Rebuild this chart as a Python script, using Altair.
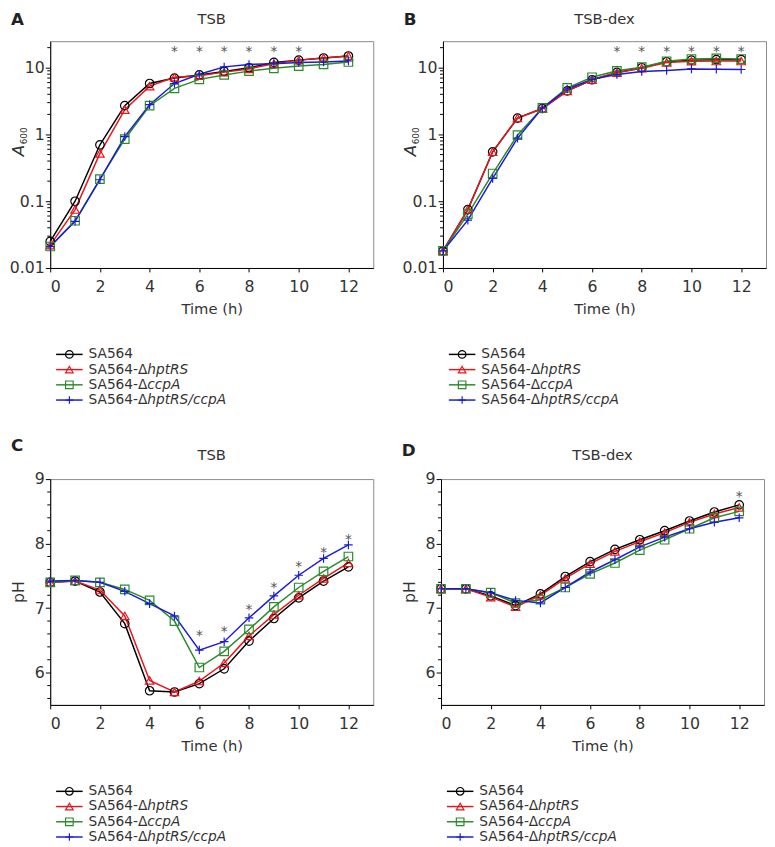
import altair as alt
import pandas as pd

time = list(range(13))
strains = ["SA564", "SA564-ΔhptRS", "SA564-ΔccpA", "SA564-ΔhptRS/ccpA"]
prefixes = ["SA564", "SA564-Δ", "SA564-Δ", "SA564-Δ"]
suffixes = ["", "hptRS", "ccpA", "hptRS/ccpA"]
colors = ["#000000", "#e8161c", "#2b8a2b", "#1a1ad8"]
shapes = ["circle", "triangle-up", "square", "M0,-1L0,1M-1,0L1,0"]

# Panel A: A600, TSB
a_sa564 = [0.025, 0.1, 0.7, 2.7, 5.8, 7.0, 7.8, 8.8, 10.0, 12.0, 13.0, 14.0, 15.0]
a_hpt = [0.022, 0.075, 0.52, 2.35, 5.3, 7.2, 7.6, 8.6, 9.6, 11.5, 13.0, 14.0, 15.0]
a_ccp = [0.021, 0.051, 0.215, 0.85, 2.7, 4.9, 6.7, 7.8, 8.9, 9.8, 10.6, 11.2, 12.2]
a_dbl = [0.021, 0.05, 0.21, 0.93, 2.8, 5.8, 8.0, 10.3, 11.2, 11.5, 12.0, 12.2, 12.6]
a_star_t = [5, 6, 7, 8, 9, 10]
a_star_y = [19, 19, 19, 19, 19, 19]

# Panel B: A600, TSB-dex
b_sa564 = [0.018, 0.075, 0.55, 1.76, 2.45, 4.5, 6.6, 8.5, 10.0, 12.3, 13.0, 13.2, 13.2]
b_hpt = [0.018, 0.075, 0.55, 1.76, 2.45, 4.5, 6.6, 8.4, 9.8, 12.0, 12.5, 12.6, 12.6]
b_ccp = [0.018, 0.064, 0.26, 0.98, 2.5, 5.0, 7.2, 9.0, 10.2, 12.5, 13.5, 13.8, 13.5]
b_dbl = [0.018, 0.052, 0.22, 0.88, 2.5, 4.8, 6.7, 7.9, 8.8, 9.1, 9.6, 9.5, 9.4]
b_star_t = [7, 8, 9, 10, 11, 12]
b_star_y = [19, 19, 19, 19, 19, 19]

# Panel C: pH, TSB
c_sa564 = [7.40, 7.42, 7.25, 6.76, 5.72, 5.70, 5.83, 6.06, 6.49, 6.84, 7.16, 7.42, 7.64]
c_hpt = [7.40, 7.42, 7.28, 6.88, 5.88, 5.70, 5.87, 6.15, 6.57, 6.90, 7.20, 7.46, 7.70]
c_ccp = [7.40, 7.43, 7.40, 7.29, 7.12, 6.80, 6.08, 6.33, 6.67, 7.02, 7.32, 7.57, 7.80]
c_dbl = [7.42, 7.43, 7.40, 7.26, 7.07, 6.88, 6.35, 6.48, 6.85, 7.19, 7.51, 7.77, 7.98]
c_star_t = [6, 7, 8, 9, 10, 11, 12]
c_star_y = [6.62, 6.68, 7.02, 7.36, 7.68, 7.90, 8.10]

# Panel D: pH, TSB-dex
d_sa564 = [7.30, 7.30, 7.19, 7.04, 7.22, 7.49, 7.72, 7.91, 8.06, 8.20, 8.35, 8.49, 8.60]
d_hpt = [7.30, 7.30, 7.17, 7.02, 7.20, 7.46, 7.69, 7.88, 8.03, 8.17, 8.33, 8.46, 8.56]
d_ccp = [7.30, 7.30, 7.24, 7.08, 7.13, 7.32, 7.53, 7.70, 7.90, 8.06, 8.23, 8.40, 8.50]
d_dbl = [7.30, 7.30, 7.24, 7.12, 7.08, 7.32, 7.56, 7.75, 7.95, 8.10, 8.23, 8.33, 8.40]
d_star_t = [12]
d_star_y = [8.76]

log_major = [0.01, 0.1, 1, 10]
log_minor = [0.02, 0.03, 0.04, 0.05, 0.06, 0.07, 0.08, 0.09,
             0.2, 0.3, 0.4, 0.5, 0.6, 0.7, 0.8, 0.9,
             2, 3, 4, 5, 6, 7, 8, 9, 20]
ph_major = [6, 7, 8, 9]
ph_minor = [5.6, 5.8, 6.2, 6.4, 6.6, 6.8, 7.2, 7.4, 7.6, 7.8, 8.2, 8.4, 8.6, 8.8]

FONT = "DejaVu Sans"
TXT = "#333333"
W = 329


def long_df(series):
    rows = []
    for s, vals in zip(strains, series):
        for t, v in zip(time, vals):
            rows.append({"strain": s, "time": t, "value": v})
    return pd.DataFrame(rows)


legend_df = pd.DataFrame({"strain": strains, "prefix": prefixes,
                          "suffix": suffixes, "idx": list(range(4))})


def label(text, x, y, **kw):
    return alt.Chart(pd.DataFrame({"t": [text]})).mark_text(**kw).encode(
        text="t:N", x=alt.value(x), y=alt.value(y))


def panel(series, star_t, star_y, title, letter, log, H, letter_dy, title_dy):
    df = long_df(series)
    stars = pd.DataFrame({"time": star_t, "value": star_y})
    if log:
        yscale = alt.Scale(type="log", domain=[0.01, 25], nice=False)
        major, minor = log_major, log_minor
        yfmt = "~g"
    else:
        yscale = alt.Scale(domain=[5.5, 9], nice=False, zero=False)
        major, minor = ph_major, ph_minor
        yfmt = "d"
    xscale = alt.Scale(domain=[0, 13], nice=False)
    x = alt.X("time:Q", scale=xscale,
              axis=alt.Axis(values=time, title="Time (h)",
                            labelExpr="datum.value % 2 == 0 ? datum.label : ''"))
    y = alt.Y("value:Q", scale=yscale,
              axis=alt.Axis(values=major, format=yfmt, title=None))
    color = alt.Color("strain:N", scale=alt.Scale(domain=strains, range=colors), legend=None)
    shape = alt.Shape("strain:N", scale=alt.Scale(domain=strains, range=shapes), legend=None)

    base = alt.Chart(df)
    lines = base.mark_line(strokeWidth=1.5).encode(x=x, y=y, color=color)
    pts = base.mark_point(filled=False, size=75, strokeWidth=1.2, opacity=1).encode(
        x="time:Q", y="value:Q", color=color, shape=shape)
    st = alt.Chart(stars).mark_text(text="*", font=FONT, fontSize=14, color="#555555",
                                    baseline="middle", dy=3).encode(x="time:Q", y="value:Q")
    minor_df = pd.DataFrame({"value": minor})
    mt = alt.Chart(minor_df).mark_rule(color="black", strokeWidth=1).encode(
        y="value:Q", x=alt.value(0), x2=alt.value(-3))

    let = label(letter, -40, letter_dy, font=FONT, fontSize=17, fontWeight="bold",
                color="#222222", align="left", baseline="middle")
    ttl = label(title, W / 2, title_dy, font=FONT, fontSize=15, color=TXT,
                align="center", baseline="middle")

    if log:
        ytitle = label("A", -27, H / 2 - 4, font=FONT, fontSize=17, fontStyle="italic",
                       color=TXT, angle=270, align="center", baseline="alphabetic") + \
                 label("600", -24, H / 2 - 19, font=FONT, fontSize=9, color=TXT, angle=270,
                       align="center", baseline="alphabetic")
    else:
        ytitle = label("pH", -27, H / 2, font=FONT, fontSize=16, color=TXT, angle=270,
                       align="center", baseline="alphabetic")

    lb = alt.Chart(legend_df).transform_calculate(py=f"{H + 88} + datum.idx * 15.5")
    ly = alt.Y("py:Q", scale=None)
    l_line = lb.mark_rule(strokeWidth=1.5).encode(
        x=alt.value(6), x2=alt.value(33), y=ly, color=color)
    l_pt = lb.mark_point(filled=False, size=60, strokeWidth=1.2, opacity=1).encode(
        x=alt.value(19.5), y=ly, color=color, shape=shape)
    l_t1 = lb.mark_text(font=FONT, fontSize=14, color=TXT, align="left",
                        baseline="middle").encode(x=alt.value(39), y=ly, text="prefix:N")
    l_t2 = lb.mark_text(font=FONT, fontSize=14, fontStyle="italic", color=TXT, align="left",
                        baseline="middle").encode(x=alt.value(39 + 59.8), y=ly, text="suffix:N")

    return alt.layer(mt, lines, pts, st, let, ttl, ytitle, l_line, l_pt, l_t1, l_t2).properties(
        width=W, height=H)


pA = panel([a_sa564, a_hpt, a_ccp, a_dbl], a_star_t, a_star_y, "TSB", "A", True, 231, -21, -22)
pB = panel([b_sa564, b_hpt, b_ccp, b_dbl], b_star_t, b_star_y, "TSB-dex", "B", True, 231, -21, -22)
pC = panel([c_sa564, c_hpt, c_ccp, c_dbl], c_star_t, c_star_y, "TSB", "C", False, 230, -34, -24)
pD = panel([d_sa564, d_hpt, d_ccp, d_dbl], d_star_t, d_star_y, "TSB-dex", "D", False, 230, -29, -24)

row1 = alt.hconcat(pA, pB, spacing=27)
row2 = alt.hconcat(pC, pD, spacing=27)
chart = alt.vconcat(row1, row2, spacing=29).properties(
    padding={"left": 0, "top": -5, "right": 0, "bottom": 0}
).configure_view(
    stroke="#8a8a8a", strokeWidth=1
).configure_axis(
    grid=False, domainColor="black", tickColor="black", domainWidth=1, tickWidth=1,
    tickSize=4, labelFont=FONT, labelFontSize=16, labelColor=TXT, labelPadding=4,
    titleFont=FONT, titleFontSize=15, titleFontWeight="normal", titleColor=TXT
).configure_axisX(labelPadding=7, titlePadding=7).configure_axisY(tickSize=5, labelPadding=1)

chart.save("out.html", embed_options={"renderer": "svg", "actions": False})
